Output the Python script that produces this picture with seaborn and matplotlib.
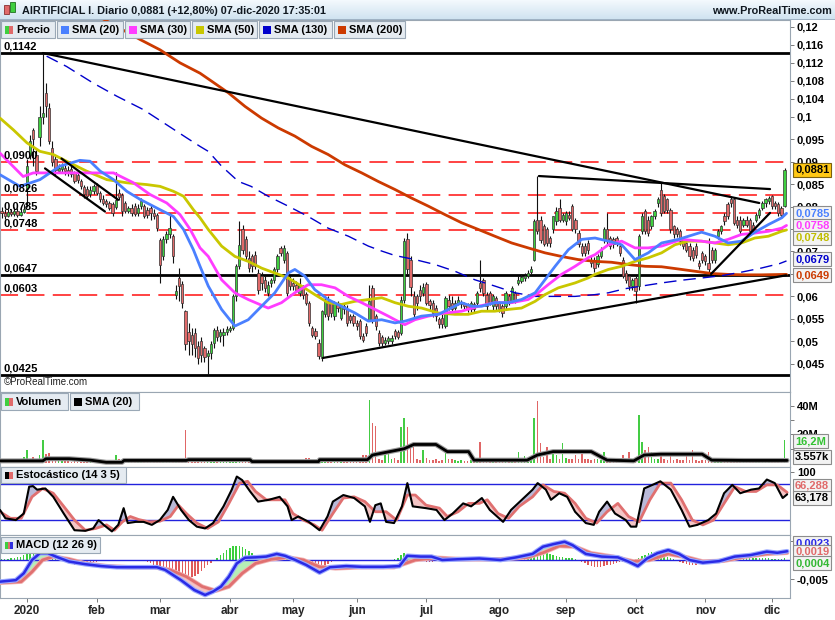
import numpy as np
import pandas as pd
import matplotlib
matplotlib.use("Agg")
import matplotlib.pyplot as plt
import matplotlib.patheffects as pe
from matplotlib.patches import Rectangle
from matplotlib.colors import LinearSegmentedColormap
import seaborn as sns

# ------------------------------------------------------------------ data
# Daily candles, prices in units of 1e-4 EUR. Day 0 = 2-ene-2020, negative = Dec 2019.
first_day = -8
opens = [
    790, 785, 780, 788, 783, 790, 782, 788,
    840, 915, 970, 915, 955, 1000, 1053, 1020, 930, 905, 880, 883, 887, 882, 884, 875, 870, 858, 843, 840, 828, 835,
    848, 830, 818, 812, 808, 805, 800, 830, 825, 808, 790, 797, 801, 786, 801, 801, 793, 797, 786, 782,
    725, 690, 728, 738, 735, 604, 641, 627, 567, 520, 515, 518, 489, 500, 485, 468, 475, 497, 526, 512, 515, 520,
    525, 530, 600, 667, 749, 727, 686, 689, 692, 652, 645, 637, 608, 630, 637, 660, 708, 682, 697, 637,
    630, 626, 608, 622, 605, 586, 530, 522, 497, 463, 560, 590, 586, 556, 586, 553, 578, 571, 556, 556,
    541, 545, 511, 534, 548, 619, 556, 519, 510, 497, 500, 500, 522, 520, 519, 593, 727, 680, 600, 600, 615, 608,
    627, 590, 586, 575, 549, 552, 534, 593, 586, 575, 586, 582, 582, 582, 571, 582, 586, 630, 637, 604, 608, 578, 597,
    586, 578, 578, 600, 589, 608, 630, 635, 640, 645, 655, 682, 771, 771, 757, 749, 730, 749, 767, 797, 771,
    767, 782, 801, 771, 742, 712, 712, 719, 680, 682, 672, 690, 726, 749, 730, 727, 730, 712, 682, 652, 645, 623,
    641, 623, 745, 790, 771, 756, 778, 808, 838, 823, 816, 793, 756, 749, 745, 727, 719, 712, 704, 712, 675, 697,
    689, 675, 704, 682, 734, 745, 778, 805, 816, 816, 771, 771, 760, 771, 771, 760, 771, 782, 797, 808, 812,
    823, 808, 805, 797, 801]
highs = [
    800, 795, 795, 795, 798, 797, 795, 805,
    905, 960, 975, 925, 1025, 1142, 1075, 1030, 945, 912, 895, 898, 892, 890, 890, 880, 875, 862, 848, 845, 845, 850,
    852, 835, 825, 818, 812, 810, 878, 840, 830, 812, 802, 805, 808, 805, 820, 806, 800, 805, 795, 786,
    730, 735, 745, 785, 740, 625, 663, 635, 570, 540, 530, 530, 500, 510, 490, 480, 500, 530, 535, 528, 530, 535,
    535, 605, 672, 767, 758, 735, 700, 695, 700, 660, 655, 645, 635, 640, 665, 695, 712, 715, 700, 645,
    640, 635, 640, 625, 610, 590, 535, 530, 505, 570, 600, 600, 592, 590, 590, 582, 585, 580, 560, 560,
    548, 550, 518, 540, 626, 625, 560, 525, 515, 510, 512, 515, 528, 525, 600, 730, 742, 690, 612, 605, 625, 630,
    632, 595, 592, 580, 555, 560, 600, 602, 600, 592, 600, 592, 588, 586, 590, 588, 612, 682, 642, 610, 612, 605, 600,
    590, 582, 612, 606, 623, 612, 645, 650, 652, 658, 668, 772, 867, 778, 762, 755, 735, 780, 800, 816, 786,
    790, 790, 805, 775, 748, 720, 718, 725, 690, 688, 695, 710, 755, 786, 735, 732, 735, 718, 688, 658, 650, 640,
    645, 740, 785, 795, 778, 782, 795, 822, 853, 828, 820, 797, 760, 755, 750, 732, 725, 718, 710, 718, 680, 702,
    695, 730, 710, 708, 750, 760, 785, 810, 823, 822, 778, 780, 775, 778, 775, 765, 786, 797, 812, 820, 823,
    826, 812, 810, 802, 885]
lows = [
    775, 772, 776, 778, 780, 776, 778, 785,
    800, 905, 890, 870, 935, 985, 1000, 940, 890, 870, 875, 878, 870, 868, 866, 852, 852, 840, 820, 818, 822, 828,
    826, 810, 804, 798, 792, 780, 795, 815, 780, 785, 785, 780, 778, 780, 795, 775, 774, 770, 772, 745,
    630, 680, 720, 730, 675, 595, 590, 575, 480, 470, 470, 465, 450, 455, 455, 425, 460, 485, 500, 498, 490, 515,
    520, 525, 590, 660, 695, 680, 655, 655, 660, 605, 615, 610, 600, 622, 630, 655, 690, 675, 600, 615,
    615, 610, 600, 595, 580, 535, 510, 505, 460, 457, 555, 548, 555, 548, 565, 548, 560, 535, 540, 535,
    525, 505, 498, 512, 545, 540, 525, 490, 490, 492, 495, 495, 505, 505, 515, 585, 650, 600, 550, 570, 590, 600,
    580, 570, 555, 545, 530, 530, 530, 570, 565, 570, 580, 575, 570, 565, 565, 565, 580, 610, 600, 570, 580, 570, 570,
    565, 555, 570, 580, 585, 585, 625, 630, 635, 640, 650, 678, 740, 720, 712, 712, 710, 742, 760, 765, 765,
    760, 770, 745, 742, 710, 690, 690, 695, 665, 655, 665, 685, 720, 715, 705, 708, 712, 690, 640, 630, 615, 615,
    586, 615, 738, 738, 735, 750, 772, 800, 780, 785, 785, 742, 730, 732, 715, 705, 698, 682, 678, 685, 660, 675,
    670, 648, 675, 675, 728, 740, 760, 772, 800, 758, 752, 740, 755, 755, 740, 742, 765, 775, 792, 800, 805,
    795, 795, 780, 775, 798]
closes = [
    785, 780, 788, 783, 790, 782, 788, 795,
    890, 945, 950, 880, 1000, 1008, 1023, 945, 900, 882, 887, 890, 880, 875, 873, 857, 860, 845, 827, 823, 838, 845,
    830, 816, 808, 805, 797, 786, 814, 822, 790, 790, 797, 786, 783, 797, 812, 779, 782, 786, 780, 752,
    670, 727, 738, 752, 689, 612, 623, 586, 493, 500, 495, 486, 462, 470, 465, 475, 493, 525, 510, 520, 520, 528,
    530, 600, 667, 715, 704, 689, 664, 667, 667, 615, 630, 619, 626, 637, 660, 690, 697, 708, 608, 623,
    623, 615, 623, 604, 586, 541, 515, 511, 467, 567, 590, 556, 563, 586, 575, 578, 571, 541, 548, 541,
    534, 511, 504, 519, 589, 548, 534, 497, 497, 504, 507, 507, 511, 510, 593, 723, 660, 620, 560, 585, 600, 620,
    586, 580, 563, 556, 538, 538, 597, 578, 571, 586, 593, 586, 578, 571, 586, 571, 608, 619, 608, 578, 586, 600, 578,
    571, 563, 608, 586, 619, 593, 637, 643, 645, 652, 660, 767, 745, 726, 717, 719, 719, 778, 790, 771, 782,
    786, 775, 749, 749, 716, 697, 697, 704, 675, 664, 689, 704, 749, 723, 712, 716, 719, 697, 645, 637, 623, 637,
    612, 734, 779, 745, 742, 778, 790, 816, 786, 790, 793, 749, 738, 738, 723, 712, 704, 689, 686, 693, 667, 682,
    678, 660, 682, 704, 745, 756, 767, 778, 808, 764, 760, 745, 771, 760, 745, 749, 782, 793, 808, 816, 819,
    801, 801, 786, 781, 881]
# daily volume, millions of shares
volumes = [
    1.2, 1.5, 1.0, 1.8, 1.3, 1.0, 1.6, 4.0,
    9.0, 3.0, 4.5, 2.5, 5.5, 16.0, 6.0, 7.0, 3.0, 3.5, 2.0, 1.5, 2.0, 1.2, 1.0, 1.5, 1.0, 1.2, 1.5, 1.0, 1.3, 0.8,
    1.0, 0.8, 0.6, 0.7, 0.9, 1.0, 5.6, 2.5, 2.0, 1.0, 0.8, 1.2, 0.9, 1.0, 1.5, 1.2, 1.0, 1.3, 1.1, 1.8,
    3.0, 2.0, 1.5, 1.8, 1.6, 2.0, 2.5, 2.0, 23.0, 3.0, 2.0, 1.5, 2.0, 1.0, 1.2, 1.0, 1.5, 1.3, 1.0, 1.2, 0.9, 1.0,
    1.2, 1.5, 1.8, 2.0, 1.5, 1.2, 1.0, 1.3, 1.0, 1.1, 0.9, 1.0, 1.2, 1.4, 1.0, 1.5, 1.1, 2.0, 1.0, 0.9,
    1.0, 1.2, 1.0, 1.3, 3.3, 3.3, 1.0, 1.2, 2.5, 1.8, 1.0, 1.2, 2.0, 0.9, 1.1, 1.3, 1.0, 1.4, 1.2, 1.0,
    1.5, 1.2, 5.6, 5.6, 44.0, 28.0, 26.0, 3.0, 2.0, 5.6, 9.0, 3.0, 3.3, 2.0, 25.5, 31.4, 25.5, 12.0, 12.0, 3.0, 2.0, 9.0,
    3.3, 2.0, 1.8, 2.5, 1.5, 2.0, 7.9, 3.0, 2.5, 2.0, 1.5, 1.8, 1.2, 1.5, 2.0, 1.5, 2.0, 15.0, 3.0, 2.5, 2.0, 1.8, 1.5,
    1.5, 1.8, 2.5, 1.5, 2.0, 1.5, 7.9, 3.0, 5.0, 2.5, 3.0, 31.4, 43.7, 13.8, 4.0, 11.4, 3.0, 9.0, 5.6, 3.0, 13.8,
    3.3, 2.5, 3.0, 5.6, 2.5, 7.9, 3.0, 2.5, 2.0, 2.5, 3.0, 2.0, 7.9, 3.0, 2.5, 2.0, 1.8, 2.0, 5.6, 2.5, 7.9, 2.0,
    3.0, 33.7, 15.0, 9.0, 11.4, 7.9, 3.0, 2.5, 5.6, 3.0, 2.0, 5.6, 2.0, 2.5, 1.8, 2.0, 5.6, 2.0, 9.1, 2.0, 1.5, 2.0,
    1.8, 7.9, 2.0, 3.3, 2.0, 1.5, 2.0, 1.8, 2.5, 1.5, 2.0, 1.8, 1.5, 3.3, 1.5, 2.0, 1.8, 1.5, 2.0, 1.5, 1.8,
    2.0, 1.5, 1.8, 1.5, 16.2]
# MACD histogram, units of 1e-4
macd_hist = [
    2, 3, 3, 4, 5, 7, 9, 12, 15, 18, 22, 25, 26, 25, 23, 19, 14, 9, 4,
    -2, -5, -8, -11, -13, -13, -12, -10, -8, -6, -5, -4, -3, -2, -1,
    -1, -1, 0, 1, 1, 0, -1, -1, 0, -1, -2, -3, -5, -8, -12, -16,
    -22, -28, -34, -40, -45, -50, -53, -53, -52, -50, -46, -42, -36, -30, -22, -14, -7, -2,
    5, 12, 19, 26, 32, 36, 37, 36, 33, 29, 24, 19, 14, 10, 7,
    5, 4, 3, 3, 4, 5, 4, 3, 2, 1,
    -3, -8, -13, -18, -22, -26, -26, -24, -20, -15, -10, -5,
    -2, -1, 0, 1, 1, 0, -1, 0, 1, 1, 0, 0, 1, 0, -1, -1, 0, 0, 1, 2,
    6, 12, 18, 17, 14, 10, 6, 3,
    -2, -4, -5, -4, -3, -2, -1, 0, 1, 0, -1,
    0, 1, 1, 0, -1, 0, 1, 0, 1, 1, 0, -1, 0, 1, 1, 0, 0, 1, 2, 3, 4, 5,
    10, 18, 24, 28, 26, 23, 20, 16, 13, 10, 8, 7, 6,
    5, 4, 2, 0,
    -4, -8, -12, -16, -19, -19, -18, -16, -14, -12, -10, -8, -6, -5, -4, -3, -2,
    2, 6, 10, 14, 18, 20, 22, 21, 18, 14, 9, 5, 2,
    -3, -6, -9, -11, -13, -13, -12, -10, -8, -6, -4, -3, -1,
    1, 2, 2, 3, 3, 4, 4, 5, 5, 4, 4, 5, 6, 6, 5, 5, 4, 3, 3, 2, 3, 4]

# moving averages (day, price x 1e-4)
sma20_day = [-8.5, -2.2, 4.1, 10.4, 16.7, 19.9, 23.1, 27.3, 31.5, 35.7, 42, 46.2, 49.4, 52.5, 54.6, 57.2, 61.4, 65.6,
             69.8, 74, 78.2, 82.4, 84.5, 87.7, 90.8, 95, 99.2, 103.5, 107.7, 111.9, 116.1, 119.3, 124.4, 129.8, 132.9,
             137.1, 140.3, 143.4, 147.6, 151.8, 156, 160.3, 163.4, 166.6, 170.8, 175, 179.2, 183.4, 187.6, 191.8, 196,
             200.2, 205.5, 212.8, 217, 221.2, 225.4, 229.6, 233.9, 238.1, 239.6]
sma20_val = [871, 845, 860, 890, 903, 901, 879, 860, 834, 816, 793, 778, 749, 704, 667, 623, 571, 534,
             548, 578, 608, 652, 660, 645, 615, 593, 578, 563, 545, 548, 541, 545, 556, 560, 571,
             586, 578, 578, 586, 586, 593, 608, 637, 667, 704, 727, 730, 723, 715, 682, 697,
             719, 727, 743, 734, 719, 723, 743, 760, 775, 785]
sma30_day = [-8.5, -1.2, 2, 12.5, 27.3, 33.6, 38.8, 44.1, 48.3, 51.5, 54.6, 57.2, 61.4, 65.6, 69.8, 76.1, 80.3, 84.5,
             88.7, 92.9, 97.2, 101.4, 105.6, 109.8, 114, 116.1, 119.2, 122.4, 126.6, 131.8, 137.1, 142.4, 147.6, 152.9,
             158.1, 161.3, 164.4, 168.6, 172.9, 177, 179.2, 183.4, 187.6, 191.8, 196, 200.2, 206.5, 212.8, 217, 221.2,
             225.4, 229.6, 233.9, 238.1, 239.6]
sma30_val = [919, 867, 875, 875, 875, 853, 827, 808, 782, 749, 708, 689, 637, 608, 593, 574, 586, 608,
             626, 626, 619, 600, 586, 571, 556, 548, 537, 548, 556, 563, 567, 578, 586, 586,
             593, 608, 626, 649, 667, 686, 693, 715, 723, 708, 708, 712, 727, 723, 719, 727,
             738, 741, 745, 752, 758]
sma50_day = [-8.5, -4.3, 0, 4.1, 8.3, 12.5, 18.8, 25.2, 31.5, 37.8, 42, 46.2, 49.4, 52.5, 54.6, 57.2, 61.4, 65.6,
             69.8, 74, 78.2, 82.4, 86.6, 90.8, 95, 99.2, 103.4, 107.7, 111.9, 116.1, 120.3, 124.5, 129.8, 135, 139.2,
             143.4, 147.6, 151.8, 156, 160.3, 163.4, 167.6, 172.9, 177, 179.2, 183.4, 187.6, 191.8, 196, 200.2, 204.4,
             208.6, 212.8, 217, 221.2, 225.4, 229.6, 233.9, 238.1, 239.6]
sma50_val = [997, 971, 942, 923, 916, 901, 879, 860, 853, 849, 845, 834, 823, 793, 775, 749, 712, 689,
             678, 663, 652, 641, 623, 604, 586, 582, 589, 593, 597, 586, 578, 574, 563, 560, 560,
             567, 567, 571, 574, 589, 604, 619, 630, 641, 649, 660, 667, 678, 686, 697, 715,
             723, 723, 719, 715, 719, 730, 734, 745, 748]
sma130_day = [6.2, 12.5, 20.9, 28.3, 36.7, 44.1, 50.4, 54.6, 57.2, 61.4, 66.7, 70.7, 76.1, 82.4, 88.7, 95, 101.4,
              107.7, 111.9, 116.1, 122.4, 128.7, 135, 141.3, 147.6, 154, 160.3, 166.6, 172.9, 179.2, 183.4, 188.6,
              193.9, 200.2, 206.5, 212.8, 219, 225.4, 231.6, 237.4, 239.6]
sma130_val = [1135, 1112, 1075, 1046, 1016, 982, 953, 934, 923, 890, 856, 845, 823, 801, 778, 752, 734,
              712, 701, 691, 682, 671, 656, 637, 623, 608, 600, 600, 600, 604, 608, 617,
              623, 630, 636, 641, 646, 654, 663, 673, 679]
sma200_day = [24, 35.7, 42, 48.3, 54.6, 58.3, 63.6, 68.8, 74, 79.3, 84.5, 89.8, 95, 100.3, 105.6, 110.8, 116.1,
              121.3, 126.6, 131.9, 137.1, 142.4, 147.6, 152.9, 158.1, 163.4, 168.6, 173.9, 179.2, 184.4, 189.7, 195,
              200.2, 205.5, 210.7, 216, 221.2, 226.5, 231.7, 239.6]
sma200_val = [1218, 1172, 1149, 1120, 1097, 1079, 1053, 1023, 997, 975, 957, 934, 916, 893, 875, 856, 838,
              819, 801, 782, 764, 749, 734, 719, 708, 697, 689, 682, 678, 676, 671, 667,
              666, 661, 656, 651, 649, 648, 648, 649]
vol_sma_day = [-8.5, 5, 6, 13.3, 20, 25, 30, 30.6, 50.3, 51, 70.4, 71, 92, 92.3, 107.4, 109, 119, 122, 129, 132.6,
               139.3, 141, 157.8, 161, 166, 178, 183, 191.4, 194.7, 200, 213, 216, 226, 239.8]
vol_sma_val = [1.5, 1.5, 3, 3, 2, 0.5, 0.5, 1.8, 1.8, 2.3, 2.3, 1.0, 1.0, 2.3, 2.3, 5.6, 10, 13, 13, 8,
               8, 2, 2, 5.6, 8, 8, 2, 1.5, 5.6, 6.2, 6.2, 2, 1.8, 1.8]
# stochastic (14 3 5)
stoch_k_day = [-8.5, -6.8, -3.5, -1.0, 0.7, 1.9, 3.2, 5.8, 8.3, 11.6, 15.0, 18.4, 20.9, 22.6, 24.2, 26.8, 28.8, 30.5,
               31.8, 34.3, 36.8, 39.4, 41.9, 44.4, 46.1, 48.6, 51.1, 53.6, 56.2, 58.7, 62.0, 64.6, 66.2, 67.9, 70.4,
               72.9, 76.3, 79.7, 82.2, 83.5, 85.6, 88.9, 92.3, 94.8, 96.5, 99.8, 103.2, 106.6, 108.2, 109.9, 111.6,
               113.3, 115.8, 118.3, 120.0, 121.7, 125.9, 129.2, 131.7, 134.3, 137.6, 140.1, 143.5, 146.0, 150.2,
               152.7, 156.1, 159.5, 161.1, 163.7, 165.3, 167.9, 170.4, 172.9, 176.3, 178.8, 180.5, 183.0, 185.5,
               188.9, 190.5, 192.2, 194.7, 197.3, 199.8, 203.1, 206.5, 209.0, 211.5, 214.9, 217.4, 219.9, 222.5,
               225.0, 228.4, 230.9, 233.4, 235.9, 238.4, 239.8]
stoch_k = [37, 23, 20, 31, 76, 77, 71, 73, 59, 31, 3, 2, 6, 20, 12, 1, 12, 40,
           15, 17, 17, 12, 20, 37, 59, 37, 20, 9, 6, 15, 43, 71, 93, 87, 68,
           51, 54, 59, 43, 20, 26, 17, 3, 26, 51, 62, 57, 43, 17, 45, 48,
           17, 15, 43, 82, 43, 40, 37, 20, 31, 48, 43, 57, 37, 17,
           37, 54, 71, 82, 71, 54, 65, 59, 34, 15, 12, 34, 51, 31,
           20, 9, 9, 73, 79, 85, 71, 37, 9, 12, 20, 31, 65, 79,
           65, 71, 73, 88, 82, 57, 63.2]
stoch_d_day = [-8.5, -5.2, -1.8, 1.6, 4.9, 8.3, 11.6, 15.0, 18.4, 21.7, 25.1, 27.6, 30.1, 32.6, 35.2, 38.5, 41.9,
               45.2, 47.8, 50.3, 53.6, 57.0, 60.4, 63.7, 67.1, 69.6, 72.1, 75.5, 78.8, 81.4, 83.9, 87.2, 90.6, 93.1,
               96.5, 99.8, 103.2, 106.6, 109.9, 113.3, 116.6, 120.0, 122.5, 125.9, 130.1, 132.6, 136.0, 139.3, 142.7,
               145.2, 148.6, 151.9, 155.3, 159.5, 162.8, 166.2, 169.6, 172.9, 176.3, 179.7, 183.0, 186.4, 189.8,
               193.1, 196.5, 199.8, 203.1, 206.5, 209.9, 213.2, 216.6, 219.9, 223.3, 226.7, 230.0, 233.4, 236.7, 239.8]
stoch_d = [34, 23, 23, 59, 73, 65, 43, 20, 3, 6, 12, 3, 17, 26, 21, 17, 18,
           26, 45, 31, 15, 6, 17, 48, 82, 85, 68, 54, 54, 54, 31, 20, 12, 3,
           31, 57, 59, 51, 34, 34, 20, 62, 62, 45, 40, 26, 34, 48, 48,
           54, 31, 23, 43, 59, 79, 68, 65, 48, 23, 15, 34, 48, 26,
           17, 54, 82, 82, 54, 20, 12, 20, 48, 76, 68, 68, 79, 79, 66.3]
# MACD (12 26 9), units of 1e-4
macd_day = [-8.5, -3.5, -1.0, 1.6, 4.1, 6.6, 9.1, 13.3, 18.4, 23.4, 28.4, 35.2, 41.0, 43.6, 48.6, 52.8, 56.2, 58.7,
            61.2, 63.7, 66.2, 68.8, 72.1, 75.5, 78.8, 81.4, 84.7, 88.1, 92.3, 95.6, 100.7, 105.7, 112.4, 117.5, 120.0,
            124.2, 127.6, 131.0, 136.0, 142.7, 149.4, 154.4, 159.5, 162.8, 166.2, 169.6, 172.1, 176.3, 181.3, 186.4,
            189.7, 192.7, 195.6, 198.9, 202.3, 205.7, 209.0, 213.2, 218.3, 223.3, 228.3, 233.4, 236.7, 239.8]
macd_line = [-57, -53, -35, 0, 18, 18, 9, -4, -11, -16, -19, -19, -19, -26, -53, -79, -92, -83,
             -70, -44, -9, 6, 7, 9, 16, 11, 0, -13, -33, -19, -16, -18, -18, -16, 11,
             9, 9, 0, 2, 4, 0, 7, 16, 35, 42, 48, 39, 16, 9, 7,
             -4, -16, 4, 18, 26, 16, 0, -7, -3, 9, 13, 22, 19, 23]
signal_day = [-8.5, -1.8, 1.6, 4.9, 8.3, 13.3, 18.4, 25.1, 31.8, 40.2, 45.2, 50.3, 55.3, 59.5, 63.7, 67.9, 72.1,
              77.1, 82.2, 87.2, 92.3, 97.3, 105.7, 115.8, 122.5, 129.2, 137.6, 149.4, 157.8, 162.8, 167.9, 172.9,
              177.9, 184.7, 191.4, 196.4, 202.3, 208.2, 213.2, 219.9, 226.7, 233.4, 239.8]
signal_line = [-60, -57, -31, 0, 9, 2, -9, -16, -19, -19, -26, -44, -70, -81, -70, -35, -9,
               2, 7, 0, -18, -22, -19, -19, 0, 6, 2, 2, 7, 19, 37, 35,
               18, 9, -4, 0, 16, 7, -4, -2, 9, 16, 19]

# horizontal levels and trend lines (price x 1e-4)
solid_levels = [1142, 647, 425]
dashed_levels = [900, 826, 785, 748, 603]
level_labels = {1142: "0,1142", 900: "0,0900", 826: "0,0826", 785: "0,0785", 748: "0,0748",
                647: "0,0647", 603: "0,0603", 425: "0,0425"}
trend_lines = [(5, 1142, 231, 808), (161.5, 868, 234.4, 839), (93.4, 463, 239.5, 647),
               (215.8, 650, 234.4, 786), (10.9, 907, 28.8, 815), (5.7, 885, 24.6, 789)]
month_days = [0, 22, 42, 64, 84, 104, 126, 149, 170, 192, 214, 235]
month_labels = ["2020", "feb", "mar", "abr", "may", "jun", "jul", "ago", "sep", "oct", "nov", "dic"]
price_ticks = [0.12, 0.116, 0.112, 0.108, 0.104, 0.1, 0.095, 0.09, 0.085, 0.08, 0.075, 0.07, 0.065,
               0.06, 0.055, 0.05, 0.045]

# ------------------------------------------------------------------ style
sns.set_theme(style="white")
plt.rcParams['font.family'] = ['Liberation Sans', 'DejaVu Sans']
plt.rcParams['lines.scale_dashes'] = False

GREEN = '#3fcf3f'
RED = '#e06a6a'
C20, C30, C50, C130, C200 = '#4a80ff', '#ff3cff', '#c9c700', '#0000cc', '#cc3a00'
SPINE = '#9aa6b2'

W, H = 835, 620
fig = plt.figure(figsize=(W / 100, H / 100), dpi=100)


def fx(px):
    return px / W


def fy(py):
    return 1 - py / H


XL = (-8.5, 240.7)
ax_p = fig.add_axes([0, fy(392), fx(790), (392 - 20) / H])
ax_v = fig.add_axes([0, fy(467), fx(790), (467 - 392) / H])
ax_s = fig.add_axes([0, fy(535), fx(790), (535 - 467) / H])
ax_m = fig.add_axes([0, fy(598), fx(790), (598 - 535) / H])

for ax in (ax_p, ax_v, ax_s, ax_m):
    ax.set_xlim(*XL)
    ax.set_facecolor('white')
    for s in ax.spines.values():
        s.set_color(SPINE)
        s.set_linewidth(0.8)
    ax.yaxis.tick_right()
    ax.tick_params(axis='y', which='both', right=True, left=False, length=3, width=0.7, color='#7a7a7a',
                   pad=2, labelsize=8, labelcolor='black')
    ax.set_xlabel('')
    ax.set_ylabel('')

# ------------------------------------------------------------------ price panel
n = len(closes)
days = np.arange(first_day, first_day + n)
df = pd.DataFrame({'day': days, 'open': np.array(opens) / 1e4, 'high': np.array(highs) / 1e4,
                   'low': np.array(lows) / 1e4, 'close': np.array(closes) / 1e4, 'vol': volumes})
up = df['close'] >= df['open']

for lv in dashed_levels:
    ax_p.axhline(lv / 1e4, color='#ff1010', lw=1.1, ls=(0, (13, 6)), zorder=2)
for lv in solid_levels:
    ax_p.axhline(lv / 1e4, color='black', lw=2.0, zorder=2)

ax_p.vlines(df['day'], df['low'], df['high'], color='#111111', lw=0.8, zorder=3)
ax_p.bar(df['day'], (df['close'] - df['open']).abs().clip(lower=0.00004),
         bottom=np.minimum(df['open'], df['close']), width=0.72,
         color=np.where(up, GREEN, RED), edgecolor='#333333', linewidth=0.5, zorder=3)

for d, v, c, lw, ls in [(sma200_day, sma200_val, C200, 2.0, '-'), (sma130_day, sma130_val, C130, 1.0, (0, (9, 5))),
                        (sma50_day, sma50_val, C50, 2.0, '-'), (sma30_day, sma30_val, C30, 2.0, '-'),
                        (sma20_day, sma20_val, C20, 2.0, '-')]:
    sns.lineplot(x=d, y=np.array(v) / 1e4, ax=ax_p, color=c, lw=lw, linestyle=ls, estimator=None,
                 errorbar=None, legend=False, zorder=4)

for x0, p0, x1, p1 in trend_lines:
    ax_p.plot([x0, x1], [p0 / 1e4, p1 / 1e4], color='black', lw=1.6, zorder=5,
              solid_capstyle='round')

for lv, txt in level_labels.items():
    ax_p.annotate(txt, xy=(0.004, lv / 1e4), xycoords=('axes fraction', 'data'), xytext=(0, 1.2),
                  textcoords='offset points', ha='left', va='bottom', fontsize=8, fontweight='bold',
                  color='black', zorder=8)

ax_p.set_ylim(0.03871, 0.12155)
ax_p.set_yticks(price_ticks)
ax_p.set_yticklabels([('%g' % t).replace('.', ',') for t in price_ticks], fontweight='bold')
ax_p.tick_params(axis='x', bottom=False, labelbottom=False)
ax_p.text(0.005, 0.027, '\u00a9ProRealTime.com', transform=ax_p.transAxes, fontsize=7, color='#222222',
          ha='left', va='center')

# ------------------------------------------------------------------ volume panel
ax_v.bar(df['day'], df['vol'], width=0.5, color=np.where(up, '#44cc44', '#e06666'), linewidth=0, zorder=2)
sns.lineplot(x=vol_sma_day, y=vol_sma_val, ax=ax_v, color='black', lw=2.0, estimator=None, errorbar=None,
             legend=False, zorder=4, path_effects=[pe.Stroke(linewidth=3.6, foreground='#9a9a9a'), pe.Normal()])
ax_v.set_ylim(-2.8, 49.8)
ax_v.set_yticks([20, 40])
ax_v.set_yticklabels(['20M', '40M'], fontweight='bold')
ax_v.set_yticks([10, 30], minor=True)
ax_v.tick_params(axis='x', which='both', bottom=False, labelbottom=False)

# ------------------------------------------------------------------ stochastic panel
xs = np.linspace(-8.5, 239.8, 2000)
ki = np.interp(xs, stoch_k_day, stoch_k)
di = np.interp(xs, stoch_d_day, stoch_d)
ax_s.fill_between(xs, ki, di, where=ki >= di, interpolate=True, color='#b9b9d8', lw=0, zorder=1)
ax_s.fill_between(xs, ki, di, where=ki < di, interpolate=True, color='#f4c6c6', lw=0, zorder=1)
for lvl in (80, 20):
    ax_s.axhline(lvl, color='#2222dd', lw=1.0, zorder=2)
sns.lineplot(x=stoch_d_day, y=stoch_d, ax=ax_s, color='#e07070', lw=2.0, estimator=None, errorbar=None,
             legend=False, zorder=3)
sns.lineplot(x=stoch_k_day, y=stoch_k, ax=ax_s, color='black', lw=1.5, estimator=None, errorbar=None,
             legend=False, zorder=4)
ax_s.set_ylim(-5, 109)
ax_s.set_yticks([100])
ax_s.set_yticklabels(['100'], fontweight='bold')
ax_s.tick_params(axis='x', which='both', bottom=False, labelbottom=False)

# ------------------------------------------------------------------ MACD panel
ax_m.bar(df['day'], macd_hist, width=0.45, color=np.where(np.array(macd_hist) >= 0, '#3ccf3c', '#e05a5a'),
         linewidth=0, zorder=1)
mi = np.interp(xs, macd_day, macd_line)
si = np.interp(xs, signal_day, signal_line)
ax_m.fill_between(xs, mi, si, where=mi >= si, interpolate=True, color='#b6efb6', lw=0, zorder=2)
ax_m.fill_between(xs, mi, si, where=mi < si, interpolate=True, color='#f4c4c4', lw=0, zorder=2)
ax_m.axhline(0, color='#2222dd', lw=1.0, zorder=3)
sns.lineplot(x=signal_day, y=signal_line, ax=ax_m, color='#e07070', lw=2.0, estimator=None, errorbar=None,
             legend=False, zorder=4, path_effects=[pe.Stroke(linewidth=3.2, foreground='#f2b0b0'), pe.Normal()])
sns.lineplot(x=macd_day, y=macd_line, ax=ax_m, color='#2a2ae6', lw=1.8, estimator=None, errorbar=None,
             legend=False, zorder=5, path_effects=[pe.Stroke(linewidth=3.4, foreground='#9aa8ff'), pe.Normal()])
ax_m.set_ylim(-100, 65.8)
ax_m.set_yticks([-50, 50])
ax_m.set_yticklabels(['-0,005', '0,005'], fontweight='bold')
ax_m.set_xticks(month_days)
ax_m.set_xticklabels(month_labels, fontweight='bold', fontsize=8.5)
ax_m.tick_params(axis='x', bottom=True, length=3, width=0.7, color='#7a7a7a', pad=2)

# ------------------------------------------------------------------ header / legends / value boxes
ax_t = fig.add_axes([0, fy(20), 1, 20 / H])
cmap_t = LinearSegmentedColormap.from_list('t', ['#f3f9fd', '#cfe2f0'])
ax_t.imshow(np.linspace(0, 1, 20).reshape(-1, 1), aspect='auto', cmap=cmap_t, extent=[0, 1, 0, 1])
ax_t.set_axis_off()


def rect(x0, y0, x1, y1, fc, ec='none', lw=0.8, z=10):
    fig.add_artist(Rectangle((fx(x0), fy(y1)), fx(x1 - x0), (y1 - y0) / H, transform=fig.transFigure,
                             facecolor=fc, edgecolor=ec, linewidth=lw, zorder=z))


def ftext(x, y, s, **kw):
    kw.setdefault('zorder', 15)
    fig.text(fx(x), fy(y), s, **kw)


rect(0, 19.5, 835, 20.3, '#9fb2c4', z=9)
# small candle icon
rect(4, 5, 9, 14, '#e06a6a', '#8a3030', 0.6, z=12)
rect(10, 2, 15, 12, '#3fcf3f', '#207020', 0.6, z=12)
ftext(22, 10.5, 'AIRTIFICIAL I. Diario 0,0881 (+12,80%) 07-dic-2020 17:35:01', fontsize=7.8,
      fontweight='bold', color='#101820', va='center', ha='left')
ftext(832, 10.5, 'www.ProRealTime.com', fontsize=7.8, fontweight='bold', color='#101820', va='center',
      ha='right')


def legend_box(x0, x1, y0, y1, swatches, label):
    rect(x0, y0, x1, y1, '#e5ebf1', '#9aa8b6', 0.8, z=10)
    sw = 8.0 / len(swatches)
    for k, c in enumerate(swatches):
        rect(x0 + 4 + k * sw, y0 + 4.5, x0 + 4 + (k + 1) * sw, y1 - 4, c, z=11)
    ftext(x0 + 15, (y0 + y1) / 2 + 0.5, label, fontsize=8, fontweight='bold', color='black', va='center',
          ha='left')


legend_box(1, 55, 21, 38, [GREEN, RED], 'Precio')
legend_box(57, 123, 21, 38, [C20], 'SMA (20)')
legend_box(125, 190, 21, 38, [C30], 'SMA (30)')
legend_box(192, 257, 21, 38, [C50], 'SMA (50)')
legend_box(259, 332, 21, 38, [C130], 'SMA (130)')
legend_box(334, 405, 21, 38, [C200], 'SMA (200)')
legend_box(1, 68, 393, 410, [GREEN, RED], 'Volumen')
legend_box(70, 139, 393, 410, ['black'], 'SMA (20)')
legend_box(1, 126, 467, 483, ['black', RED], 'Estocástico (14 3 5)')
legend_box(1, 100, 537, 553, [GREEN, RED, '#3030e0'], 'MACD (12 26 9)')


def value_box(y, s, color, fc='#f3f3f3', ec='#8c8c8c'):
    ftext(795, y, s, fontsize=8, fontweight='bold', color=color, va='center', ha='left', zorder=20,
          bbox=dict(boxstyle='square,pad=0.15', fc=fc, ec=ec, lw=0.8))


value_box(170, '0,0881', 'black', fc='#ffc814', ec='#7a6010')
value_box(213, '0,0785', C20)
value_box(226, '0,0758', C30)
value_box(238, '0,0748', '#c0bd00')
value_box(259, '0,0679', C130)
value_box(275, '0,0649', C200)
value_box(441, '16,2M', '#33c233')
value_box(457, '3.557k', 'black')
value_box(486, '66,288', '#e06a6a')
value_box(498, '63,178', 'black')
value_box(543, '0,0023', '#2a2ae6')
value_box(552, '0,0019', '#e06a6a')
value_box(563, '0,0004', '#33b833')

fig.savefig('out.png', dpi=100)
